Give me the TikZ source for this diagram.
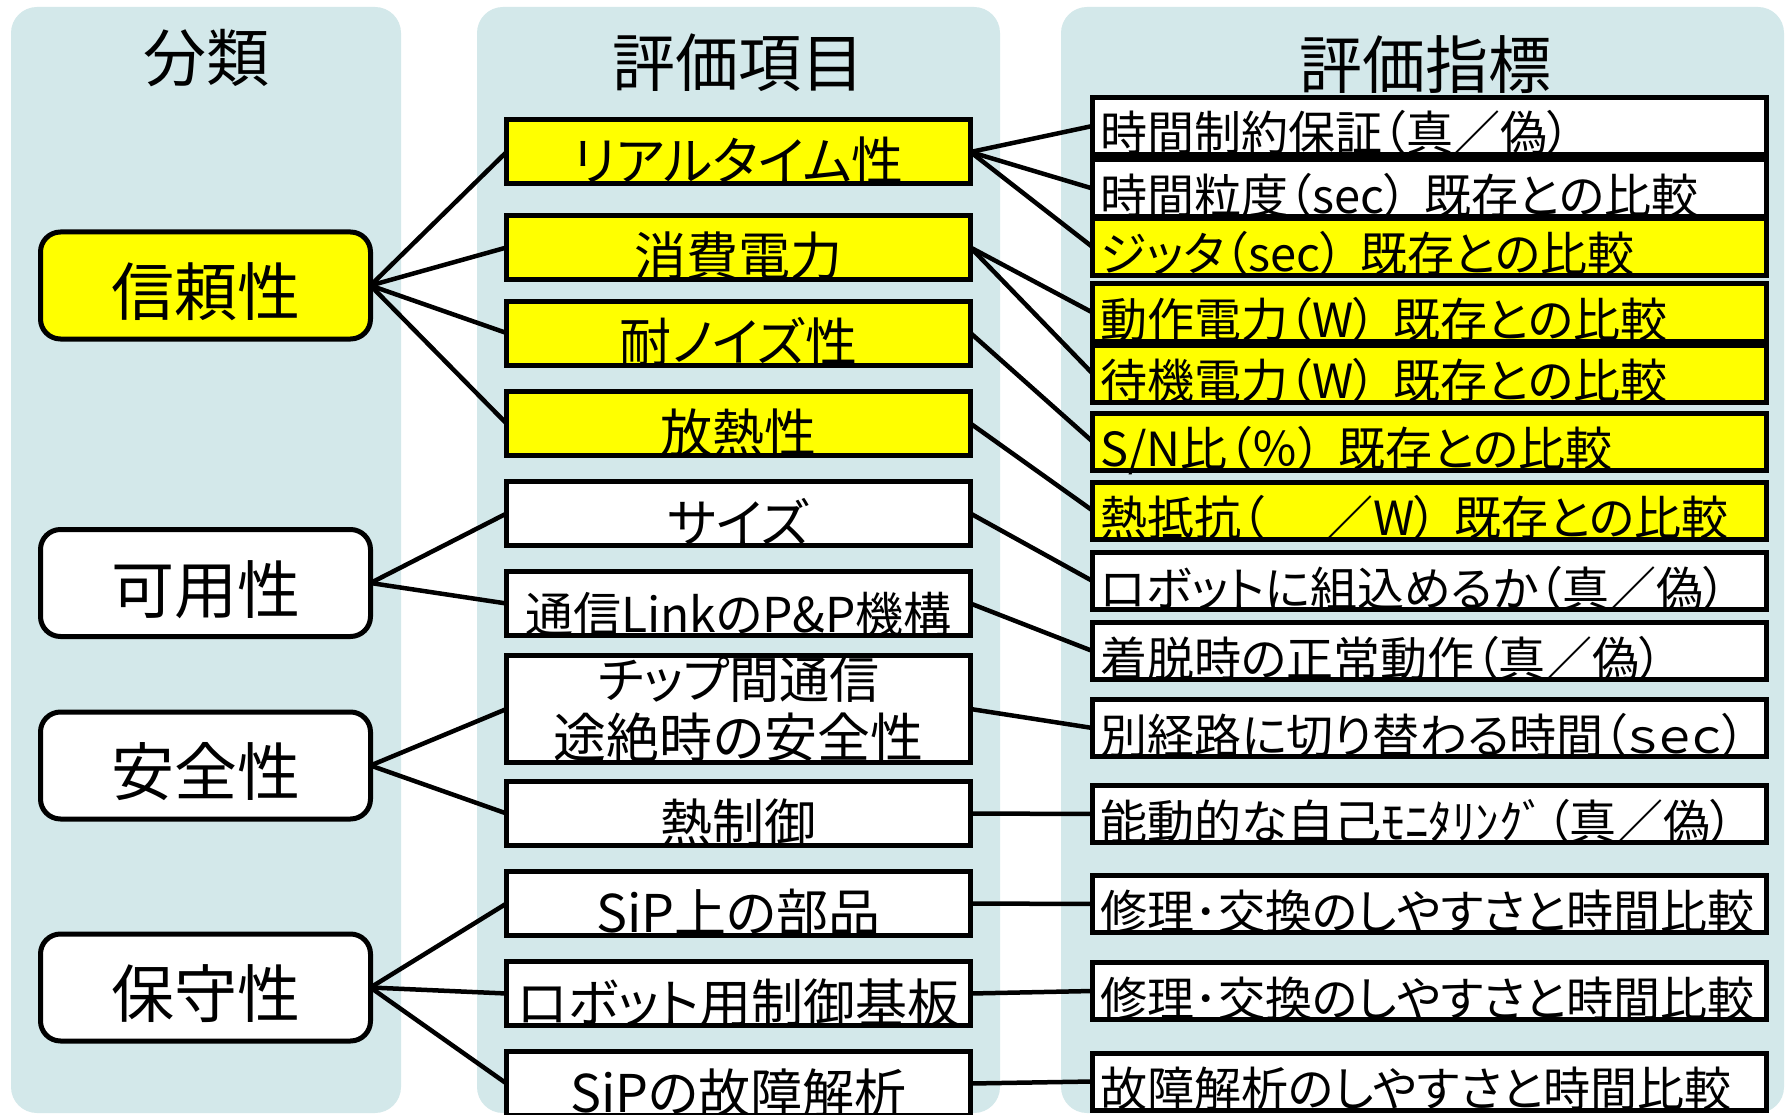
\documentclass[tikz,border=0pt]{standalone}
\usepackage{fontspec}
\setmainfont[RawFeature=+palt]{Noto Sans CJK JP}
\definecolor{panelc}{RGB}{211,232,234}
\definecolor{hlyellow}{RGB}{255,255,0}
\newcommand{\rtxt}[1]{\makebox[658pt][l]{#1}}
\newcommand{\gp}{\hspace{0.35em}}
\begin{document}
\begin{tikzpicture}[x=1pt,y=-1pt,
  panel/.style={fill=panelc, rounded corners=26pt},
  coltitle/.style={anchor=base, inner sep=0pt, font=\fontsize{63}{70}\selectfont},
  catbox/.style={draw, line width=5pt, rounded corners=20pt, fill=white,
    minimum width=330pt, minimum height=107pt, inner sep=0pt, outer sep=0pt,
    text height=83.5pt, text depth=23.5pt, font=\fontsize{63}{70}\selectfont},
  itembox/.style={fill=white, minimum width=464pt, minimum height=64pt,
    inner sep=0pt, outer sep=0pt, text height=60.5pt, text depth=3.5pt,
    font=\fontsize{52}{58}\selectfont},
  metbox/.style={fill=white, minimum width=674pt, minimum height=57pt,
    inner xsep=8pt, inner ysep=0pt, outer sep=0pt, text height=53.5pt,
    text depth=3.5pt, font=\fontsize{47}{52}\selectfont},
  hl/.style={fill=hlyellow},
  itemtext/.style={anchor=base, inner sep=0pt},
  link/.style={line width=4.5pt},
  frame/.style={line width=5pt}]
\useasboundingbox (0,0) rectangle (1785,1115);
\fill[white] (0,0) rectangle (1785,1115);
% panels
\fill[panel] (11,7) rectangle (401,1113);
\fill[panel] (477,7) rectangle (1000,1113);
\fill[panel] (1061,7) rectangle (1784,1113);
% titles
\node[coltitle] (t1) at (206,82) {分類};
\node[coltitle] (t2) at (738.5,87) {評価項目};
\node[coltitle] (t3) at (1425,89) {評価指標};
% categories
\node[catbox,hl] (l1) at (205.5,285.5) {信頼性};
\node[catbox] (l2) at (205.5,583) {可用性};
\node[catbox] (l3) at (205.5,765.5) {安全性};
\node[catbox] (l4) at (205.5,987.5) {保守性};
% items
\node[itembox,hl] (m1) at (738.5,152) {リアルタイム性};
\node[itembox,hl] (m2) at (738.5,247.5) {消費電力};
\node[itembox,hl] (m3) at (738.5,333) {耐ノイズ性};
\node[itembox,hl] (m4) at (738.5,423.5) {放熱性};
\node[itembox] (m5) at (738.5,513.5) {サイズ};
\node[itembox,font=\fontsize{48}{56}\selectfont] (m6) at (738.5,603.5) {通信LinkのP\&P機構};
\node[itembox,minimum height=107pt,text height=0pt,text depth=0pt] (m7) at (738.5,709) {};
\node[itemtext,font=\fontsize{50}{56}\selectfont] (m7a) at (738.5,698) {チップ間通信};
\node[itemtext,font=\fontsize{53}{58}\selectfont] (m7b) at (738.5,757) {途絶時の安全性};
\node[itembox] (m8) at (738.5,813.5) {熱制御};
\node[itembox] (m9) at (738.5,903.5) {SiP上の部品};
\node[itembox] (m10) at (738.5,993.5) {ロボット用制御基板};
\node[itembox] (m11) at (738.5,1083.5) {SiPの故障解析};
% metrics
\node[metbox] (r1) at (1429.5,126) {\rtxt{時間制約保証（真／偽）}};
\node[metbox] (r2) at (1429.5,188.5) {\rtxt{時間粒度（sec）\gp 既存との比較}};
\node[metbox,hl] (r3) at (1429.5,247) {\rtxt{ジッタ（sec）\gp 既存との比較}};
\node[metbox,hl] (r4) at (1429.5,312.5) {\rtxt{動作電力（W）\gp 既存との比較}};
\node[metbox,hl] (r5) at (1429.5,373.5) {\rtxt{待機電力（W）\gp 既存との比較}};
\node[metbox,hl] (r6) at (1429.5,441.5) {\rtxt{S/N比（％）\gp 既存との比較}};
\node[metbox,hl] (r7) at (1429.5,510.5) {\rtxt{熱抵抗（\hspace{1.3em}／W）\gp 既存との比較}};
\node[metbox] (r8) at (1429.5,581) {\rtxt{ロボットに組込めるか（真／偽）}};
\node[metbox] (r9) at (1429.5,651) {\rtxt{着脱時の正常動作（真／偽）}};
\node[metbox] (r10) at (1429.5,728) {\rtxt{別経路に切り替わる時間（ｓｅｃ）}};
\node[metbox] (r11) at (1429.5,814) {\rtxt{能動的な自己ﾓﾆﾀﾘﾝｸﾞ（真／偽）}};
\node[metbox] (r12) at (1429.5,904) {\rtxt{修理･交換のしやすさと時間比較}};
\node[metbox] (r13) at (1429.5,991) {\rtxt{修理･交換のしやすさと時間比較}};
\node[metbox] (r14) at (1429.5,1081.5) {\rtxt{故障解析のしやすさと時間比較}};
% connectors
\foreach \a/\b in {l1/m1,l1/m2,l1/m3,l1/m4,l2/m5,l2/m6,l3/m7,l3/m8,l4/m9,l4/m10,l4/m11,
  m1/r1,m1/r2,m1/r3,m2/r4,m2/r5,m3/r6,m4/r7,m5/r8,m6/r9,m7/r10,m8/r11,m9/r12,m10/r13,m11/r14}
  \draw[link] (\a.east) -- (\b.west);
% box frames
\foreach \n in {m1,m2,m3,m4,m5,m6,m7,m8,m9,m10,m11,r1,r2,r3,r4,r5,r6,r7,r8,r9,r10,r11,r12,r13,r14}
  \draw[frame] (\n.south west) rectangle (\n.north east);
\end{tikzpicture}
\end{document}
